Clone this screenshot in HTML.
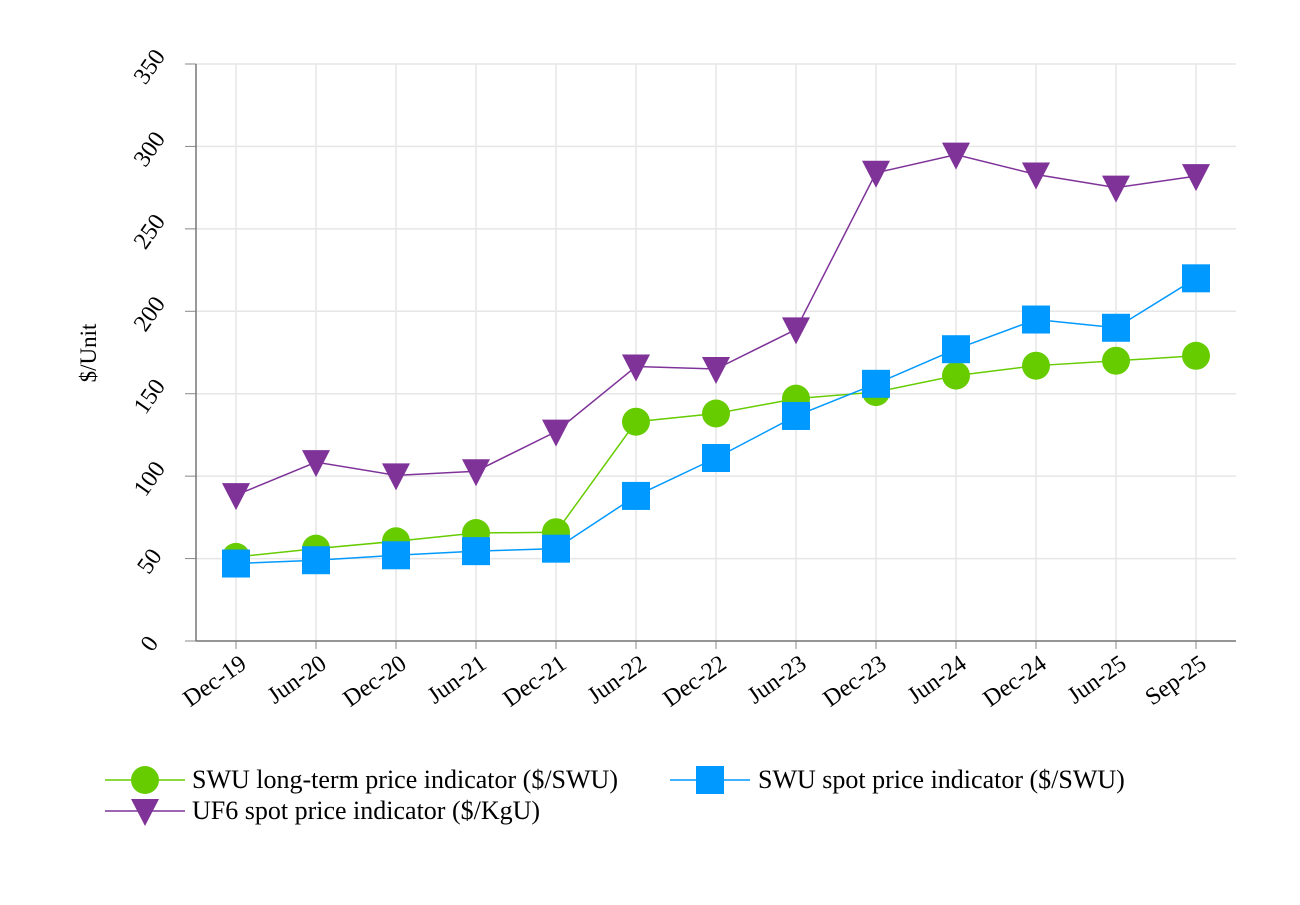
<!DOCTYPE html>
<html><head><meta charset="utf-8"><style>
body{margin:0;background:#fff;}
svg text{font-family:"Liberation Serif",serif;fill:#000;}
</style></head><body>
<svg id="chart" width="1300" height="900">
<g id="grid"></g>
<g id="axes"></g>
<g id="series"></g>
<text transform="translate(96,353) rotate(-90)" text-anchor="middle" font-size="23">$/Unit</text>
<g>
<g>
<line x1="105" y1="780" x2="185" y2="780" stroke="#66cc00" stroke-width="1.5"/><circle cx="145" cy="780" r="14" fill="#66cc00"/>
<text x="192" y="788" font-size="26">SWU long-term price indicator ($/SWU)</text></g>
<g>
<line x1="670" y1="780" x2="750" y2="780" stroke="#0099ff" stroke-width="1.5"/><rect x="696" y="766" width="28" height="28" fill="#0099ff"/>
<text x="758" y="788" font-size="26">SWU spot price indicator ($/SWU)</text></g>
<g>
<line x1="105" y1="811" x2="185" y2="811" stroke="#7f3399" stroke-width="1.5"/><polygon points="131,799 159,799 145,826" fill="#7f3399"/>
<text x="192" y="819" font-size="26">UF6 spot price indicator ($/KgU)</text></g>
</g>
</svg>
<script>
const categories=["Dec-19","Jun-20","Dec-20","Jun-21","Dec-21","Jun-22","Dec-22","Jun-23","Dec-23","Jun-24","Dec-24","Jun-25","Sep-25"];
const swuLongTerm=[51,56,60.5,65.5,66,133,138,147,151,161,167,170,173];
const swuSpot=[47,49,52,54.5,56,88,111,136.5,156,177,195,190,220];
const uf6Spot=[88.5,108.5,100.5,103,127,166.5,165,189,284,295,283,275,282];
const yTicks=[0,50,100,150,200,250,300,350];
const NS="http://www.w3.org/2000/svg";
const L=196,R=1236,T=64,B=641;
const x=i=>236+i*80;
const y=v=>B-(v/350)*(B-T);
function mk(tag,attrs,parent){const e=document.createElementNS(NS,tag);for(const k in attrs)e.setAttribute(k,attrs[k]);parent.appendChild(e);return e;}
const grid=document.getElementById('grid'),axes=document.getElementById('axes'),ser=document.getElementById('series');
yTicks.forEach(t=>{
 const g=mk('line',{x1:L,x2:R,y1:y(t),y2:y(t),stroke:'#e6e6e6','stroke-width':1.5},grid);
 
 
 const tk=mk('line',{x1:L-11,x2:L,y1:y(t),y2:y(t),stroke:'#888'},axes);
 
 
 const tx=mk('text',{transform:`translate(${L-46},${y(t)+3}) rotate(-55)`,'text-anchor':'middle','dominant-baseline':'central','font-size':24},axes);
 tx.textContent=t;
 
 
});
categories.forEach((c,i)=>{
 const g=mk('line',{x1:x(i),x2:x(i),y1:T,y2:B,stroke:'#e6e6e6','stroke-width':1.5},grid);
 
 
 const tk=mk('line',{x1:x(i),x2:x(i),y1:B,y2:B+8,stroke:'#888'},axes);
 
 
 const tx=mk('text',{transform:`translate(${x(i)+12},${B+26}) rotate(-35)`,'text-anchor':'end','font-size':24},axes);
 tx.textContent=c;
 
 
});
const ax=mk('line',{x1:L,x2:R,y1:B,y2:B,stroke:'#777','stroke-width':1.5},axes);


const ay=mk('line',{x1:L,x2:L,y1:T,y2:B,stroke:'#777','stroke-width':1.5},axes);


function series(vals,color,shape,name){
 const p=mk('polyline',{points:vals.map((v,i)=>x(i)+','+y(v)).join(' '),fill:'none',stroke:color,'stroke-width':1.5},ser);
 
 
 vals.forEach((v,i)=>{
  const cx=x(i),cy=y(v);let m;
  if(shape==='circle')m=mk('circle',{cx:cx,cy:cy,r:14,fill:color},ser);
  else if(shape==='square')m=mk('rect',{x:cx-14,y:cy-14,width:28,height:28,fill:color},ser);
  else m=mk('polygon',{points:`${cx-14},${cy-12} ${cx+14},${cy-12} ${cx},${cy+15}`,fill:color},ser);
  
  
 });
}
series(swuLongTerm,'#66cc00','circle','swu-long-term');
series(swuSpot,'#0099ff','square','swu-spot');
series(uf6Spot,'#7f3399','tri','uf6-spot');
</script>
</body></html>
